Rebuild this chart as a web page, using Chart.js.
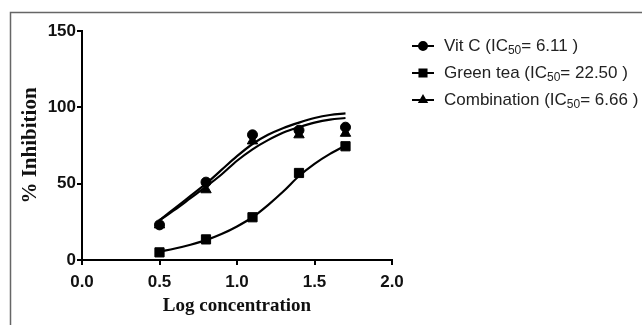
<!DOCTYPE html>
<html>
<head>
<meta charset="utf-8">
<script src="https://cdn.jsdelivr.net/npm/chart.js@4.4.0/dist/chart.umd.min.js"></script>
<style>
	html, body { margin: 0; padding: 0; background: #fff; }
	#chart { display: block; }
</style>
</head>
<body>
<canvas id="chart" width="642" height="325"></canvas>
<script>
// dati misurati (log concentrazione vs % inibizione)
var logConc = [0.5, 0.8, 1.1, 1.4, 1.7];
var vitC = [23, 51, 82, 85, 87];
var greenTea = [5, 13.5, 28, 57, 74.5];
var combination = [23, 46, 78, 82, 83];

// curve di fit
var fitX = [0.5, 0.6, 0.7, 0.8, 0.9, 1.0, 1.1, 1.2, 1.3, 1.4, 1.5, 1.6, 1.7];
var vitCFit = [26, 34, 42, 50, 59, 68, 76, 82, 86.5, 90, 93, 95, 96];
var greenTeaFit = [5.5, 7.5, 10, 13, 17, 22, 28, 36, 45, 55, 63, 69.5, 75];
var combinationFit = [26, 33, 40.5, 48, 56, 65, 72.5, 78.5, 83.5, 87, 90, 92, 93];

var xTicks = [0, 0.5, 1.0, 1.5, 2.0];
var yTicks = [0, 50, 100, 150];

var legendItems = [
	{ name: "Vit C (IC", ic: "6.11", style: "circle" },
	{ name: "Green tea (IC", ic: "22.50", style: "rect" },
	{ name: "Combination (IC", ic: "6.66", style: "triangle" }
];

function toPoints(xs, ys) {
	return xs.map(function(x, i) { return { x: x, y: ys[i] }; });
}

function pointSet(label, ys, style, radius) {
	return {
		label: label,
		data: toPoints(logConc, ys),
		showLine: false,
		pointStyle: style,
		pointRadius: radius,
		pointBackgroundColor: "#000",
		pointBorderColor: "#000",
		pointBorderWidth: 1
	};
}

function curveSet(label, ys) {
	return {
		label: label,
		data: toPoints(fitX, ys),
		showLine: true,
		borderColor: "#000",
		borderWidth: 2.2,
		pointRadius: 0,
		tension: 0.4,
		cubicInterpolationMode: "monotone"
	};
}

// cornice grigia + legenda con pedice
var framePlugin = {
	id: "frame",
	beforeDraw: function(chart) {
		var ctx = chart.ctx;
		ctx.save();
		ctx.strokeStyle = "#666";
		ctx.lineWidth = 1.5;
		ctx.beginPath();
		ctx.moveTo(10.5, 325);
		ctx.lineTo(10.5, 12.5);
		ctx.lineTo(642, 12.5);
		ctx.stroke();
		ctx.restore();
	},
	afterDraw: function(chart) {
		var ctx = chart.ctx;
		var rowsY = [46, 73, 100];
		ctx.save();
		legendItems.forEach(function(item, i) {
			var y = rowsY[i];
			ctx.strokeStyle = "#000";
			ctx.lineWidth = 2;
			ctx.beginPath();
			ctx.moveTo(412, y);
			ctx.lineTo(434, y);
			ctx.stroke();
			ctx.fillStyle = "#000";
			Chart.helpers.drawPoint(ctx, {
				pointStyle: item.style,
				radius: item.style == "rect" ? 5 : 4,
				rotation: 0,
				borderWidth: 1
			}, 423, y);
			ctx.fill();

			ctx.fillStyle = "#222";
			ctx.textBaseline = "middle";
			ctx.font = "17px 'Liberation Sans', Arial, sans-serif";
			var x = 444;
			ctx.fillText(item.name, x, y);
			x += ctx.measureText(item.name).width;
			ctx.font = "12px 'Liberation Sans', Arial, sans-serif";
			ctx.fillText("50", x, y + 5);
			x += ctx.measureText("50").width;
			ctx.font = "17px 'Liberation Sans', Arial, sans-serif";
			ctx.fillText("= " + item.ic + " )", x, y);
		});
		ctx.restore();
	}
};

var ctx = document.getElementById("chart").getContext("2d");
var chart = new Chart(ctx, {
	type: "scatter",
	data: {
		datasets: [
			curveSet("Vit C fit", vitCFit),
			curveSet("Green tea fit", greenTeaFit),
			curveSet("Combination fit", combinationFit),
			pointSet("Vit C", vitC, "circle", 5),
			pointSet("Green tea", greenTea, "rect", 6.5),
			pointSet("Combination", combination, "triangle", 6)
		]
	},
	options: {
		responsive: false,
		animation: false,
		layout: { padding: { left: 18, top: 31, right: 250, bottom: 8 } },
		plugins: {
			legend: { display: false },
			tooltip: { enabled: false }
		},
		scales: {
			x: {
				type: "linear",
				min: 0,
				max: 2,
				afterFit: function(scale) { scale.height = 57; },
				afterBuildTicks: function(scale) {
					scale.ticks = xTicks.map(function(v) { return { value: v }; });
				},
				ticks: {
					color: "#111",
					padding: 7,
					maxRotation: 0,
					font: { family: "'Liberation Sans', Arial, sans-serif", size: 17, weight: "bold" },
					callback: function(v) { return Number(v).toFixed(1); }
				},
				grid: { drawOnChartArea: false, drawTicks: true, tickLength: 5, color: "#000", lineWidth: 2 },
				border: { display: true, color: "#000", width: 2 },
				title: {
					display: true,
					text: "Log concentration",
					color: "#111",
					padding: 0,
					font: { family: "'Liberation Serif', 'Times New Roman', serif", size: 19, weight: "bold" }
				}
			},
			y: {
				min: 0,
				max: 150,
				afterFit: function(scale) { scale.width = 64; },
				afterBuildTicks: function(scale) {
					scale.ticks = yTicks.map(function(v) { return { value: v }; });
				},
				ticks: {
					color: "#111",
					padding: 1,
					font: { family: "'Liberation Sans', Arial, sans-serif", size: 17, weight: "bold" }
				},
				grid: { drawOnChartArea: false, drawTicks: true, tickLength: 5, color: "#000", lineWidth: 2 },
				border: { display: true, color: "#000", width: 2 },
				title: {
					display: true,
					text: "% Inhibition",
					color: "#111",
					padding: 0,
					font: { family: "'Liberation Serif', 'Times New Roman', serif", size: 21, weight: "bold" }
				}
			}
		}
	},
	plugins: [framePlugin]
});
</script>
</body>
</html>
